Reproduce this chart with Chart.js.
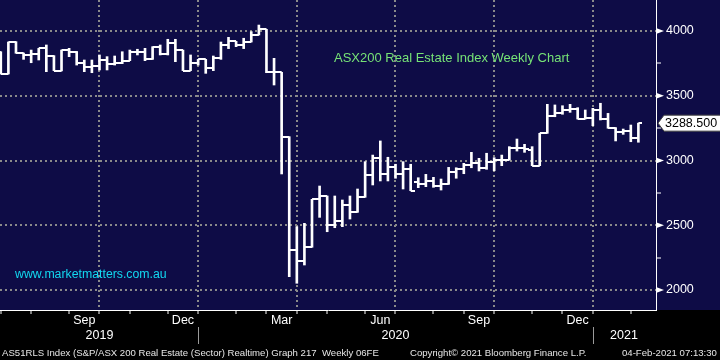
<!DOCTYPE html>
<html>
<head>
<meta charset="utf-8">
<script src="https://cdn.jsdelivr.net/npm/chart.js@4.4.1/dist/chart.umd.min.js"></script>
<style>
html,body{margin:0;padding:0;background:#000;width:720px;height:360px;overflow:hidden;}
#wrap{position:relative;width:720px;height:360px;}
#c{position:absolute;left:0;top:0;}
.t{position:absolute;white-space:nowrap;font-family:"Liberation Sans",Arial,sans-serif;}
#title{left:334px;top:51px;font-size:13px;line-height:13px;color:#76e276;}
#wm{left:15px;top:268px;font-size:12.3px;line-height:12.3px;color:#12d8f0;}
.ft{top:348px;font-size:9.6px;line-height:9.6px;color:#e6e6e6;}
</style>
</head>
<body>
<div id="wrap">
<canvas id="c" width="720" height="360"></canvas>
<div class="t" id="title">ASX200 Real Estate Index Weekly Chart</div>
<div class="t" id="wm">www.marketmatters.com.au</div>
<div class="t ft" style="left:2px">AS51RLS Index (S&amp;P/ASX 200 Real Estate (Sector) Realtime) Graph 217&nbsp; Weekly 06FE</div>
<div class="t ft" style="left:410px">Copyright© 2021 Bloomberg Finance L.P.</div>
<div class="t ft" style="left:622px">04-Feb-2021 07:13:30</div>
</div>
<script>
// ---- data (weekly OHLC, Jul 2019 - Feb 2021) ----
const open  = [3835,3668,3915,3828,3815,3822,3866,3807,3694,3853,3840,3750,3724,3730,3776,3743,3750,3771,3840,3840,3781,3874,3822,3905,3853,3694,3750,3781,3712,3789,3892,3920,3890,3915,3969,4013,3686,3681,3184,2309,2222,2330,2700,2726,2502,2535,2656,2600,2716,2888,3017,2893,2952,2893,2934,2832,2816,2842,2806,2816,2909,2934,2965,2978,2944,2986,3004,3004,3094,3099,3081,2960,3210,3346,3364,3390,3398,3320,3326,3390,3320,3254,3218,3228,3171];
const high  = [3840,3915,3918,3830,3853,3866,3892,3810,3853,3866,3842,3776,3776,3815,3802,3807,3840,3853,3859,3866,3879,3892,3936,3936,3853,3815,3781,3781,3807,3915,3951,3920,3944,3995,4046,4013,3789,3681,3184,2489,2515,2700,2803,2726,2726,2695,2726,2780,2991,3042,3151,3025,2971,2991,2971,2867,2893,2870,2857,2947,2944,2978,3063,3017,3056,3022,3042,3107,3166,3125,3107,3210,3434,3429,3423,3434,3408,3390,3403,3442,3364,3254,3243,3274,3288.5];
const low   = [3668,3668,3828,3781,3755,3776,3686,3694,3692,3802,3737,3686,3678,3699,3699,3737,3748,3771,3815,3771,3781,3815,3815,3763,3694,3694,3737,3673,3694,3781,3864,3879,3864,3915,3969,3678,3583,2896,2103,2052,2193,2330,2561,2450,2481,2489,2548,2600,2716,2811,2842,2842,2863,2780,2767,2790,2798,2793,2772,2816,2863,2898,2944,2919,2932,2921,2960,3004,3073,3063,2960,2960,3210,3338,3357,3372,3320,3320,3269,3313,3249,3151,3202,3145,3141];
const close = [3668,3915,3828,3815,3822,3866,3807,3694,3853,3840,3750,3724,3730,3776,3743,3750,3771,3840,3840,3781,3874,3822,3905,3853,3694,3750,3781,3712,3789,3892,3920,3890,3915,3969,4013,3686,3681,3184,2309,2222,2330,2700,2726,2502,2535,2656,2600,2716,2888,3017,2893,2952,2893,2934,2767,2816,2842,2806,2816,2909,2934,2965,2978,2944,2986,3004,3004,3094,3099,3089,2960,3210,3346,3364,3390,3398,3320,3326,3390,3320,3254,3218,3228,3171,3288.5];

// ---- axis ticks / labels ----
const monthTickPos  = [0,4,9,13,17,22,26,31,35,39,43,48,52,57,61,65,70,74,78,83];
const quarterPos    = [13,26,39,52,65,78];
const monthLabelPos = [11,24,37,50,63,76];
const monthLabels   = ['Sep','Dec','Mar','Jun','Sep','Dec'];
const yearLabelPos  = [13,52,82.1];
const yearLabels    = ['2019','2020','2021'];
const yearSepPos    = [26,78];
const yTickVals     = [2000,2250,2500,2750,3000,3250,3500,3750,4000];
const yMajorStep    = 500;
const X_MIN = -0.105, X_MAX = 86.32, Y_MIN = 1845.6, Y_MAX = 4239.4;

const NAVY = '#0e0c46';
const GRID = '#8a8a8a';
const FONT = '"Liberation Sans", Arial, sans-serif';

function tickImg(side){
  const c = document.createElement('canvas');
  c.width = 8; c.height = 2;
  const g = c.getContext('2d');
  g.fillStyle = '#ffffff';
  if (side === 'L') g.fillRect(0,0,4,2); else g.fillRect(4,0,4,2);
  return c;
}
const leftTick = tickImg('L'), rightTick = tickImg('R');
const idx = open.map((_, i) => i);

const decor = {
  id: 'decor',
  beforeDraw(chart){
    const ctx = chart.ctx, a = chart.chartArea;
    ctx.save();
    ctx.fillStyle = NAVY;
    ctx.fillRect(0, 0, chart.width, a.bottom);
    ctx.restore();
  },
  afterDraw(chart){
    const ctx = chart.ctx, ys = chart.scales.y, xs = chart.scales.x, xy = chart.scales.xy;
    ctx.save();
    ctx.fillStyle = '#ffffff';
    ys.ticks.forEach(t => {
      if (t.value % yMajorStep !== 0) return;
      const y = ys.getPixelForValue(t.value);
      ctx.beginPath();
      ctx.moveTo(ys.left, y - 3);
      ctx.lineTo(ys.left + 8, y);
      ctx.lineTo(ys.left, y + 3);
      ctx.closePath();
      ctx.fill();
    });
    ctx.strokeStyle = '#9a9a9a';
    ctx.lineWidth = 1;
    yearSepPos.forEach(v => {
      const x = Math.round(xs.getPixelForValue(v)) + 0.5;
      ctx.beginPath();
      ctx.moveTo(x, xy.top - 3);
      ctx.lineTo(x, xy.bottom - 2);
      ctx.stroke();
    });
    const last = close[close.length - 1];
    const yp = ys.getPixelForValue(last);
    const x0 = ys.left;
    ctx.beginPath();
    ctx.moveTo(x0 + 2, yp);
    ctx.lineTo(x0 + 8, yp - 8);
    ctx.lineTo(chart.width + 1, yp - 8);
    ctx.lineTo(chart.width + 1, yp + 8);
    ctx.lineTo(x0 + 8, yp + 8);
    ctx.closePath();
    ctx.fillStyle = '#ffffff';
    ctx.fill();
    ctx.strokeStyle = '#404040';
    ctx.lineWidth = 1;
    ctx.stroke();
    ctx.fillStyle = '#000000';
    ctx.font = '12.5px ' + FONT;
    ctx.textBaseline = 'middle';
    ctx.textAlign = 'left';
    ctx.fillText(last.toFixed(3), x0 + 9, yp + 0.5);
    ctx.restore();
  }
};

function hFit(h){ return s => { s.height = h; s.paddingLeft = 0; s.paddingRight = 0; }; }

Chart.defaults.font.family = FONT;
Chart.defaults.font.size = 12.5;

new Chart(document.getElementById('c'), {
  type: 'bar',
  data: {
    datasets: [
      { type: 'bar', data: idx.map(i => ({x: i, y: [low[i], high[i]]})),
        backgroundColor: '#ffffff', borderWidth: 0, barThickness: 2, order: 2 },
      { type: 'scatter', data: idx.map(i => ({x: i, y: open[i]})),
        pointStyle: leftTick, pointRadius: 3, showLine: false, order: 1 },
      { type: 'scatter', data: idx.map(i => ({x: i, y: close[i]})),
        pointStyle: rightTick, pointRadius: 3, showLine: false, order: 1 }
    ]
  },
  options: {
    responsive: false,
    animation: false,
    events: [],
    layout: { padding: { left: 0, right: 0, top: 0, bottom: 14 }, autoPadding: false },
    plugins: { legend: { display: false }, tooltip: { enabled: false }, title: { display: false } },
    scales: {
      x: {
        type: 'linear', position: 'bottom', min: X_MIN, max: X_MAX, weight: 0, offset: false,
        afterBuildTicks: s => { s.ticks = monthTickPos.map(v => ({value: v})); },
        afterFit: hFit(4),
        ticks: { display: false, autoSkip: false },
        grid: {
          display: true, offset: false, drawOnChartArea: true, drawTicks: true, tickLength: 4, lineWidth: 2, tickWidth: 1,
          color: c => (c.tick && quarterPos.includes(c.tick.value)) ? GRID : 'rgba(0,0,0,0)',
          tickColor: '#ffffff'
        },
        border: { display: true, color: '#ffffff', width: 1, dash: [2, 3] }
      },
      xm: {
        type: 'linear', position: 'bottom', min: X_MIN, max: X_MAX, weight: 1, offset: false,
        afterBuildTicks: s => { s.ticks = monthLabelPos.map(v => ({value: v})); },
        afterFit: hFit(16),
        ticks: { autoSkip: false, maxRotation: 0, color: '#ffffff', padding: -1,
                 callback: (v, i) => monthLabels[i] },
        grid: { display: false, offset: false, drawTicks: false },
        border: { display: false }
      },
      xy: {
        type: 'linear', position: 'bottom', min: X_MIN, max: X_MAX, weight: 2, offset: false,
        afterBuildTicks: s => { s.ticks = yearLabelPos.map(v => ({value: v})); },
        afterFit: hFit(16),
        ticks: { autoSkip: false, maxRotation: 0, color: '#ffffff', padding: -1.5,
                 callback: (v, i) => yearLabels[i] },
        grid: { display: false, offset: false, drawTicks: false },
        border: { display: false }
      },
      y: {
        type: 'linear', position: 'right', min: Y_MIN, max: Y_MAX,
        afterBuildTicks: s => { s.ticks = yTickVals.map(v => ({value: v})); },
        afterFit: s => { s.width = 64; s.paddingTop = 0; s.paddingBottom = 0; },
        ticks: { autoSkip: false, color: '#ffffff', padding: 5,
                 callback: v => (v % yMajorStep === 0 ? String(v) : '') },
        grid: {
          display: true, drawOnChartArea: true, drawTicks: true, tickLength: 5, lineWidth: 2, tickWidth: 1,
          color: c => (c.tick && c.tick.value % yMajorStep === 0) ? GRID : 'rgba(0,0,0,0)',
          tickColor: '#ffffff'
        },
        border: { display: true, color: '#ffffff', width: 1, dash: [2, 3] }
      }
    }
  },
  plugins: [decor]
});
</script>
</body>
</html>
